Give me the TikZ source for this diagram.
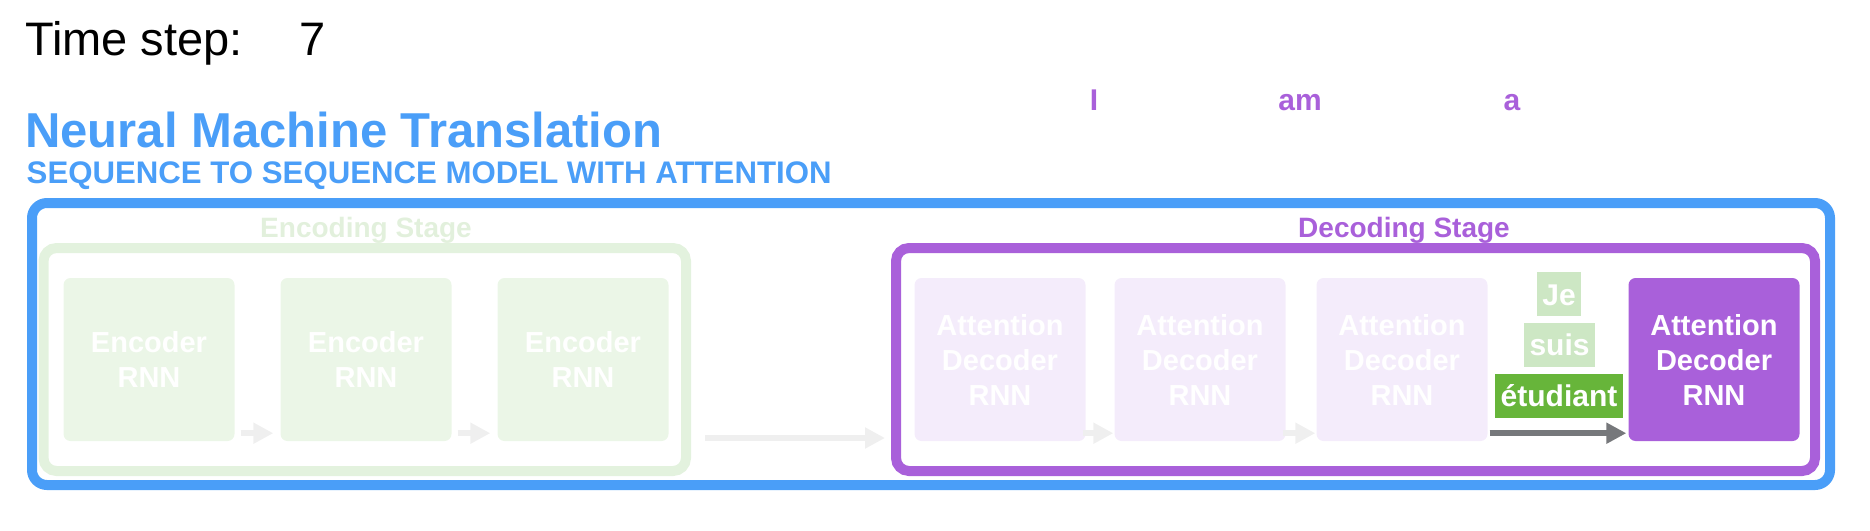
\documentclass[tikz,border=0pt]{standalone}
\usepackage{fontspec}
\setmainfont{Liberation Sans}
\usetikzlibrary{arrows.meta,calc}
\definecolor{nmtblue}{HTML}{4A9EF8}
\definecolor{nmtpurple}{HTML}{A960DA}
\definecolor{encstroke}{HTML}{E3F2DE}
\definecolor{encfill}{HTML}{EBF6E7}
\definecolor{enctext}{HTML}{E2F0DC}
\definecolor{decfill}{HTML}{F4ECFB}
\definecolor{lightarrow}{HTML}{EFEFEF}
\definecolor{darkarrow}{HTML}{76787B}
\definecolor{tokenlight}{HTML}{CDE7C4}
\definecolor{tokendark}{HTML}{67B53A}
\begin{document}
\begin{tikzpicture}[x=1pt,y=-1pt,
  rnnbox/.style={rounded corners=7pt, minimum width=171pt, minimum height=163pt, inner sep=0pt, align=center, text=white, font=\fontsize{29}{35}\selectfont\bfseries},
  encbox/.style={rnnbox, fill=encfill},
  decbox/.style={rnnbox, fill=decfill},
  actbox/.style={rnnbox, fill=nmtpurple},
  group/.style={line width=10pt, rounded corners=13pt, minimum height=223pt, inner sep=0pt},
  token/.style={inner xsep=5.5pt, inner ysep=11pt, text height=22pt, text depth=0pt, text=white, font=\fontsize{30}{36}\selectfont\bfseries},
  flow/.style={line width=6pt, -{Triangle[length=20pt,width=20pt]}},
  stagelabel/.style={anchor=base, inner sep=0pt, font=\fontsize{28}{34}\selectfont\bfseries},
  outword/.style={anchor=base, inner sep=0pt, text=nmtpurple, font=\fontsize{30}{36}\selectfont\bfseries},
  headtext/.style={anchor=base west, inner sep=0pt}
]
\useasboundingbox (0,0) rectangle (1870,530);

% headings
\node[headtext, font=\fontsize{47}{56}\selectfont] (tlabel) at (25,55) {Time step:};
\node[headtext, font=\fontsize{47}{56}\selectfont] (tvalue) at (299,55) {7};
\node[headtext, text=nmtblue, font=\fontsize{49}{58}\selectfont\bfseries] (title) at (25,147) {Neural Machine Translation};
\node[headtext, text=nmtblue, font=\fontsize{31.2}{37}\selectfont\bfseries] (subtitle) at (26.5,183) {SEQUENCE TO SEQUENCE MODEL WITH ATTENTION};

% output words
\node[outword] (w1) at (1094,110) {I};
\node[outword] (w2) at (1300,110) {am};
\node[outword] (w3) at (1512,110) {a};

% frames
\node[draw=nmtblue, line width=10pt, rounded corners=15pt, minimum width=1798pt, minimum height=282pt, inner sep=0pt] (frame) at (931,344) {};
\node[group, draw=encstroke, minimum width=642.5pt] (encgroup) at (364.75,359.5) {};
\node[group, draw=nmtpurple, minimum width=919pt] (decgroup) at (1355.5,359.5) {};
\node[stagelabel, text=enctext] (enclabel) at (366,237) {Encoding Stage};
\node[stagelabel, text=nmtpurple] (declabel) at (1404,237) {Decoding Stage};

% encoder RNNs
\node[encbox] (enc1) at (149,359.5) {Encoder\\RNN};
\node[encbox] (enc2) at (366,359.5) {Encoder\\RNN};
\node[encbox] (enc3) at (583,359.5) {Encoder\\RNN};

% decoder RNNs
\node[decbox] (dec1) at (1000,359.5) {Attention\\Decoder\\RNN};
\node[decbox] (dec2) at (1200,359.5) {Attention\\Decoder\\RNN};
\node[decbox] (dec3) at (1402,359.5) {Attention\\Decoder\\RNN};
\node[actbox] (act) at (1714,359.5) {Attention\\Decoder\\RNN};

% connectors
\draw[flow, lightarrow] ($(enc1.south east)+(6,-8)$) -- ($(enc2.south west)+(-7,-8)$);
\draw[flow, lightarrow] ($(enc2.south east)+(6,-8)$) -- ($(enc3.south west)+(-7,-8)$);
\draw[flow, lightarrow] ($(encgroup.south east)+(14,-38)$) -- ($(decgroup.south west)+(-6,-38)$);
\draw[flow, lightarrow] ($(dec1.south east)+(-3,-8)$) -- ($(dec2.south west)+(-1,-8)$);
\draw[flow, lightarrow] ($(dec2.south east)+(-3,-8)$) -- ($(dec3.south west)+(-1,-8)$);
\draw[flow, darkarrow] ($(dec3.south east)+(2,-8)$) -- ($(act.south west)+(-2,-8)$);

% tokens
\node[token, fill=tokenlight] (tok1) at (1559,294) {Je};
\node[token, fill=tokenlight] (tok2) at (1559.5,344.5) {suis};
\node[token, fill=tokendark] (tok3) at (1559,395.5) {étudiant};
\end{tikzpicture}
\end{document}
